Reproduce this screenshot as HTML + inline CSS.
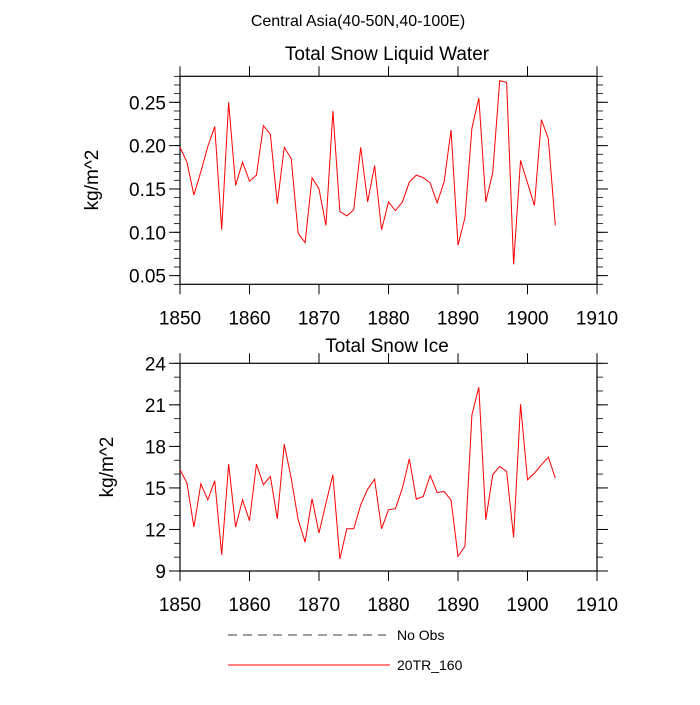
<!DOCTYPE html>
<html><head><meta charset="utf-8"><style>
body{margin:0;background:#fff;}
svg text{font-family:"Liberation Sans",sans-serif;fill:#000;}
</style></head><body>
<svg id="c" width="700" height="700" xmlns="http://www.w3.org/2000/svg">
<text x="358" y="26" font-size="16" text-anchor="middle">Central Asia(40-50N,40-100E)</text>
<text x="387" y="60" font-size="19" text-anchor="middle">Total Snow Liquid Water</text>
<text x="387" y="352" font-size="19" text-anchor="middle">Total Snow Ice</text>
<text transform="translate(98,180) rotate(-90)" font-size="19" text-anchor="middle">kg/m^2</text>
<text transform="translate(113,467) rotate(-90)" font-size="19" text-anchor="middle">kg/m^2</text>
<g id="top"></g>
<g id="bot"></g>
<line x1="228" y1="635" x2="386" y2="635" stroke="#000" stroke-width="0.8" stroke-dasharray="9,6"/>
<text x="397" y="640" font-size="14">No Obs</text>
<line x1="228" y1="665" x2="390" y2="665" stroke="#f00" stroke-width="1"/>
<text x="397" y="670" font-size="14">20TR_160</text>
</svg>
<script>
const years=[];for(let y=1850;y<=1904;y++)years.push(y);
const swe=[0.198,0.181,0.143,0.170,0.199,0.222,0.103,0.250,0.154,0.181,0.159,0.166,0.223,0.213,0.133,0.198,0.185,0.099,0.088,0.163,0.150,0.108,0.240,0.124,0.119,0.126,0.198,0.135,0.177,0.103,0.135,0.125,0.135,0.158,0.166,0.163,0.157,0.134,0.158,0.218,0.085,0.117,0.220,0.255,0.135,0.169,0.275,0.273,0.063,0.183,0.157,0.131,0.230,0.208,0.108];
const ice=[16.31,15.35,12.17,15.3,14.14,15.51,10.18,16.72,12.17,14.14,12.63,16.72,15.23,15.83,12.77,18.16,15.71,12.7,11.09,14.22,11.74,13.9,15.95,9.87,12.05,12.05,13.78,14.91,15.63,12.05,13.42,13.5,14.99,17.1,14.19,14.38,15.9,14.67,14.74,14.12,10.06,10.78,20.27,22.27,12.7,15.95,16.55,16.19,11.43,21.04,15.59,16.07,16.67,17.22,15.71];
const xTicks=[1850,1860,1870,1880,1890,1900,1910];
const topYTicks=[0.05,0.10,0.15,0.20,0.25];
const topYLabels=["0.05","0.10","0.15","0.20","0.25"];
const botYTicks=[9,12,15,18,21,24];
const botYLabels=["9","12","15","18","21","24"];
const NS="http://www.w3.org/2000/svg";
function mk(g,t,a){const e=document.createElementNS(NS,t);for(const k in a)e.setAttribute(k,a[k]);g.appendChild(e);return e;}
function panel(g,top,bot,ymin,ymax,vals,yt,yl,minorStep,name){
  const L=180,R=597;
  const xs=v=>L+(v-1850)/60*(R-L);
  const ys=v=>bot-(v-ymin)/(ymax-ymin)*(bot-top);
  const fr=mk(g,'rect',{x:L,y:top,width:R-L,height:bot-top,fill:'none',stroke:'#000','stroke-width':1.2});
  
  
  xTicks.forEach(v=>{
    const x=xs(v);
    mk(g,'line',{x1:x,y1:bot,x2:x,y2:bot+10,stroke:'#000','stroke-width':1});
    mk(g,'line',{x1:x,y1:top,x2:x,y2:top-10,stroke:'#000','stroke-width':1});
    const t=mk(g,'text',{x:x,y:bot+40,'font-size':19,'text-anchor':'middle'});
    t.textContent=v;
    
    
  });
  for(let v=ymin;v<=ymax+1e-9;v+=minorStep){
    const y=ys(v);
    mk(g,'line',{x1:L,y1:y,x2:L-6,y2:y,stroke:'#000','stroke-width':0.8});
    mk(g,'line',{x1:R,y1:y,x2:R+6,y2:y,stroke:'#000','stroke-width':0.8});
  }
  yt.forEach((v,i)=>{
    const y=ys(v);
    mk(g,'line',{x1:L,y1:y,x2:L-11,y2:y,stroke:'#000','stroke-width':1});
    mk(g,'line',{x1:R,y1:y,x2:R+11,y2:y,stroke:'#000','stroke-width':1});
    const t=mk(g,'text',{x:L-14,y:y+7,'font-size':19,'text-anchor':'end'});
    t.textContent=yl[i];
    
    
  });
  const p=mk(g,'polyline',{points:vals.map((v,i)=>xs(years[i])+','+ys(v)).join(' '),fill:'none',stroke:'#f00','stroke-width':1});
  
  
}
panel(document.getElementById('top'),76.3,284.3,0.04,0.28,swe,topYTicks,topYLabels,0.01,'top');
panel(document.getElementById('bot'),363.3,571,9,24,ice,botYTicks,botYLabels,1,'bottom');
</script>
</body></html>
